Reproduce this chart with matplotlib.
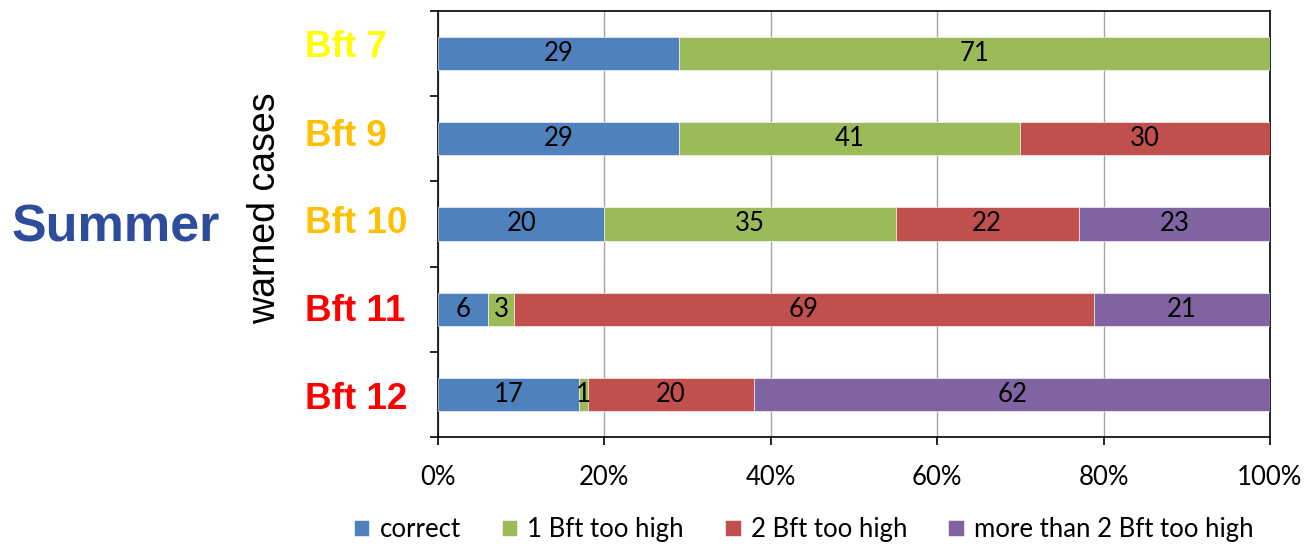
import numpy as np
import matplotlib.pyplot as plt
from matplotlib.ticker import FixedLocator
from matplotlib.transforms import ScaledTranslation

categories = ['Bft 7', 'Bft 9', 'Bft 10', 'Bft 11', 'Bft 12']
cat_colors = ['#FFFF00', '#FFC000', '#FFC000', '#FF0000', '#FF0000']
correct = [29, 29, 20, 6, 17]
one_high = [71, 41, 35, 3, 1]
two_high = [0, 30, 22, 69, 20]
more_high = [0, 0, 23, 21, 62]
series_names = ['correct', '1 Bft too high', '2 Bft too high', 'more than 2 Bft too high']
series_colors = ['#4F81BD', '#9BBB59', '#C0504D', '#8064A2']
x_ticks = [0, 20, 40, 60, 80, 100]

series = np.array([correct, one_high, two_high, more_high], dtype=float)
totals = series.sum(axis=0)
shares = series / totals * 100

fig = plt.figure(figsize=(13.07, 5.44), dpi=100)
ax = fig.add_axes([0.3351, 0.1967, 0.6366, 0.7831])

y = np.arange(len(categories))
left = np.zeros(len(categories))
for vals, share, name, col in zip(series, shares, series_names, series_colors):
    bars = ax.barh(y, share, left=left, height=0.39, color=col, label=name,
                   edgecolor='white', linewidth=0.4, zorder=3)
    for b, v in zip(bars, vals):
        if v > 0:
            ax.text(b.get_x() + b.get_width() / 2, b.get_y() + b.get_height() / 2,
                    f'{v:.0f}', ha='center', va='center', fontsize=18.5,
                    family='Lato', color='black', zorder=4)
    left += share

ax.set_xlim(0, 100)
ax.set_ylim(4.5, -0.5)
ax.set_xticks(x_ticks)
ax.set_xticklabels([f'{t}%' for t in x_ticks], family='Lato', fontsize=18.5)
ax.tick_params(axis='x', length=6, width=1.2, pad=14)
ax.grid(axis='x', color='#A6A6A6', linewidth=1, zorder=0)

# boundaries get the tick marks, centres get the labels
ax.yaxis.set_major_locator(FixedLocator(np.arange(-0.5, 5, 1)))
ax.yaxis.set_major_formatter(plt.NullFormatter())
ax.yaxis.set_minor_locator(FixedLocator(y))
ax.set_yticklabels(categories, minor=True)
ax.tick_params(axis='y', which='major', length=6, width=1.2)
ax.tick_params(axis='y', which='minor', length=0, pad=96)
# the category labels sit on a slightly tighter spacing than the bars
label_shift = [10, 6.5, 4.5, 1.5, -1]
for lab, c, dy in zip(ax.get_yticklabels(minor=True), cat_colors, label_shift):
    lab.set_color(c)
    lab.set_fontsize(26.5)
    lab.set_fontweight('bold')
    lab.set_family('Liberation Sans')
    lab.set_horizontalalignment('left')
    lab.set_transform(lab.get_transform() + ScaledTranslation(0, dy / 100, fig.dpi_scale_trans))

for s in ax.spines.values():
    s.set_linewidth(1.2)
    s.set_color('black')

fig.text(0.2028, 0.617, 'warned cases', rotation=90, ha='center', va='center',
         fontsize=27, family='Liberation Sans')
fig.text(0.0888, 0.581, 'Summer', ha='center', va='center', fontsize=37.5,
         fontweight='bold', family='Liberation Sans', color='#2E4C9C')

fig.legend(loc='center', bbox_to_anchor=(0.615, 0.026), ncol=4, frameon=False,
           prop={'family': 'Lato', 'size': 18.5}, handlelength=0.6, handleheight=0.6,
           handletextpad=0.4, columnspacing=1.6)

fig.savefig('out.png', dpi=100)
